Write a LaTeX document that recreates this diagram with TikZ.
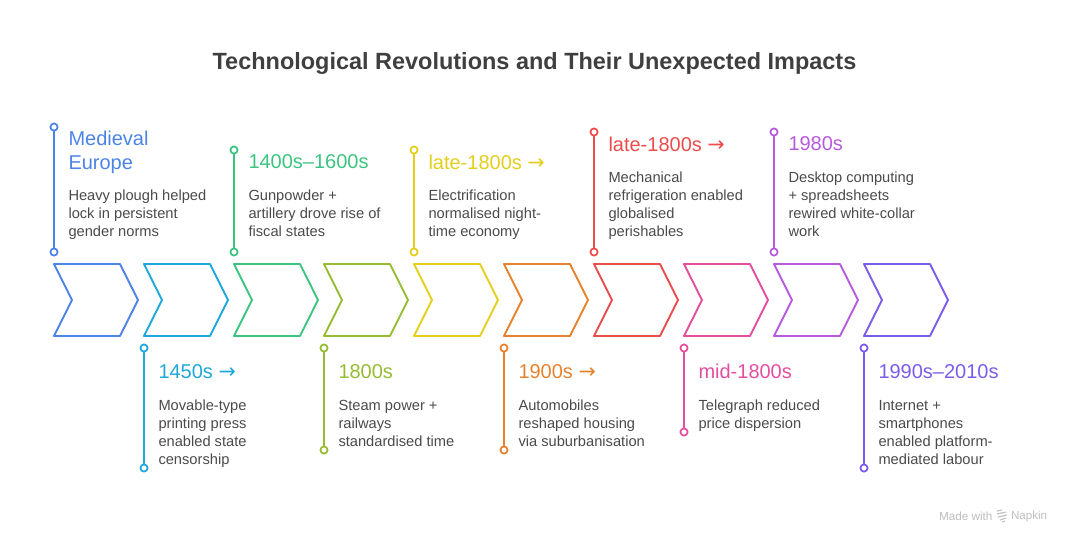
\documentclass[tikz,border=0pt]{standalone}
\usepackage{fontspec}
\setmainfont{Liberation Sans}
\newfontfamily\arrowfont{DejaVu Sans}
\definecolor{cblue}{RGB}{76,131,230}
\definecolor{ccyan}{RGB}{30,168,220}
\definecolor{cgreen}{RGB}{59,196,128}
\definecolor{colive}{RGB}{150,188,51}
\definecolor{cyellow}{RGB}{227,206,27}
\definecolor{corange}{RGB}{232,129,45}
\definecolor{cred}{RGB}{235,76,76}
\definecolor{cpink}{RGB}{229,78,158}
\definecolor{cpurple}{RGB}{184,90,224}
\definecolor{cviolet}{RGB}{122,92,236}
\definecolor{cbody}{RGB}{74,74,74}
\definecolor{cmark}{RGB}{190,190,190}
\newcommand{\arw}{{\arrowfont\fontsize{15.5}{18}\selectfont →}}
\tikzset{every picture/.style={line width=1.5pt},
  dot/.style={circle,draw=#1,fill=white,line width=1.3pt,inner sep=0pt,minimum size=5.4pt},
  stem/.style={line width=1.5pt},
  chev/.style={line width=1.4pt,line join=round},
  head/.style={anchor=north west,inner sep=0pt,align=left,font=\fontsize{15}{18.2}\selectfont},
  body/.style={anchor=north west,inner sep=0pt,align=left,text=cbody,font=\fontsize{11}{13.5}\selectfont}}

\begin{document}
\begin{tikzpicture}[x=0.75pt,y=0.75pt,yscale=-1,xscale=1]
\useasboundingbox (0,0) rectangle (1068,540);

% Text Node
\node (title) [inner sep=0pt,text=cbody!85!black,font=\fontsize{17.6}{22}\bfseries\selectfont] at (534.5,63) {Technological Revolutions and Their Unexpected Impacts};

%Shape: Chevrons
\draw [chev,cblue] (54,264) -- (120,264) -- (138,300) -- (120,336) -- (54,336) -- (72,300) -- cycle ;
\draw [chev,ccyan] (144,264) -- (210,264) -- (228,300) -- (210,336) -- (144,336) -- (162,300) -- cycle ;
\draw [chev,cgreen] (234,264) -- (300,264) -- (318,300) -- (300,336) -- (234,336) -- (252,300) -- cycle ;
\draw [chev,colive] (324,264) -- (390,264) -- (408,300) -- (390,336) -- (324,336) -- (342,300) -- cycle ;
\draw [chev,cyellow] (414,264) -- (480,264) -- (498,300) -- (480,336) -- (414,336) -- (432,300) -- cycle ;
\draw [chev,corange] (504,264) -- (570,264) -- (588,300) -- (570,336) -- (504,336) -- (522,300) -- cycle ;
\draw [chev,cred] (594,264) -- (660,264) -- (678,300) -- (660,336) -- (594,336) -- (612,300) -- cycle ;
\draw [chev,cpink] (684,264) -- (750,264) -- (768,300) -- (750,336) -- (684,336) -- (702,300) -- cycle ;
\draw [chev,cpurple] (774,264) -- (840,264) -- (858,300) -- (840,336) -- (774,336) -- (792,300) -- cycle ;
\draw [chev,cviolet] (864,264) -- (930,264) -- (948,300) -- (930,336) -- (864,336) -- (882,300) -- cycle ;

%Straight Lines with end dots
\node (a1) [dot=cblue] at (54,127) {};
\node (a2) [dot=cblue] at (54,252) {};
\draw [stem,cblue] (a1) -- (a2) ;
\node (b1) [dot=ccyan] at (144,348) {};
\node (b2) [dot=ccyan] at (144,468) {};
\draw [stem,ccyan] (b1) -- (b2) ;
\node (c1) [dot=cgreen] at (234,150) {};
\node (c2) [dot=cgreen] at (234,252) {};
\draw [stem,cgreen] (c1) -- (c2) ;
\node (d1) [dot=colive] at (324,348) {};
\node (d2) [dot=colive] at (324,450) {};
\draw [stem,colive] (d1) -- (d2) ;
\node (e1) [dot=cyellow] at (414,150) {};
\node (e2) [dot=cyellow] at (414,252) {};
\draw [stem,cyellow] (e1) -- (e2) ;
\node (f1) [dot=corange] at (504,348) {};
\node (f2) [dot=corange] at (504,450) {};
\draw [stem,corange] (f1) -- (f2) ;
\node (g1) [dot=cred] at (594,132) {};
\node (g2) [dot=cred] at (594,252) {};
\draw [stem,cred] (g1) -- (g2) ;
\node (h1) [dot=cpink] at (684,348) {};
\node (h2) [dot=cpink] at (684,432) {};
\draw [stem,cpink] (h1) -- (h2) ;
\node (i1) [dot=cpurple] at (774,132) {};
\node (i2) [dot=cpurple] at (774,252) {};
\draw [stem,cpurple] (i1) -- (i2) ;
\node (j1) [dot=cviolet] at (864,348) {};
\node (j2) [dot=cviolet] at (864,468) {};
\draw [stem,cviolet] (j1) -- (j2) ;

% Text Node
\node (ahead) [head,cblue] at (67.5,130) {Medieval\\Europe};
\node (abody) [body] at (67.5,189) {Heavy plough helped\\lock in persistent\\gender norms};
\node (bhead) [head,ccyan] at (157.5,364) {1450s \arw};
\node (bbody) [body] at (157.5,399) {Movable-type\\printing press\\enabled state\\censorship};
\node (chead) [head,cgreen] at (247.5,154) {1400s–1600s};
\node (cbody) [body] at (247.5,189) {Gunpowder +\\artillery drove rise of\\fiscal states};
\node (dhead) [head,colive] at (337.5,364) {1800s};
\node (dbody) [body] at (337.5,399) {Steam power +\\railways\\standardised time};
\node (ehead) [head,cyellow] at (427.5,154) {late-1800s \arw};
\node (ebody) [body] at (427.5,189) {Electrification\\normalised night-\\time economy};
\node (fhead) [head,corange] at (517.5,364) {1900s \arw};
\node (fbody) [body] at (517.5,399) {Automobiles\\reshaped housing\\via suburbanisation};
\node (ghead) [head,cred] at (607.5,136) {late-1800s \arw};
\node (gbody) [body] at (607.5,171) {Mechanical\\refrigeration enabled\\globalised\\perishables};
\node (hhead) [head,cpink] at (697.5,363) {mid-1800s};
\node (hbody) [body] at (697.5,399) {Telegraph reduced\\price dispersion};
\node (ihead) [head,cpurple] at (787.5,136) {1980s};
\node (ibody) [body] at (787.5,171) {Desktop computing\\+ spreadsheets\\rewired white-collar\\work};
\node (jhead) [head,cviolet] at (877.5,364) {1990s–2010s};
\node (jbody) [body] at (877.5,399) {Internet +\\smartphones\\enabled platform-\\mediated labour};

% Text Node
\node (made) [anchor=west,inner sep=0pt,text=cmark,font=\fontsize{8.8}{10}\selectfont] at (938,516) {Made with};
\node (napkin) [anchor=west,inner sep=0pt,text=cmark,font=\fontsize{8.7}{10}\selectfont] at (1010,516) {Napkin};
%Shape: Logo
\draw [cmark,line width=0.8pt] (997,511) -- (1002,510) (997,514) -- (1006,512) (998,517) -- (1007,515) (1000,520) -- (1006,518) (1002,522) -- (1005,521) ;
\end{tikzpicture}
\end{document}
